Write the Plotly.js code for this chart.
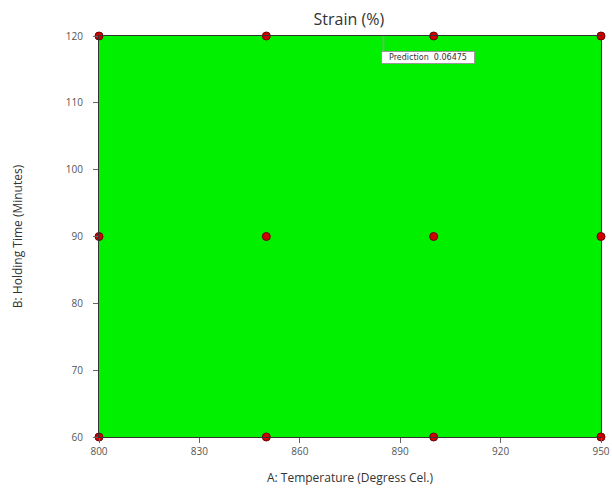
<!DOCTYPE html>
<html><head><meta charset="utf-8">
<script src="https://cdn.plot.ly/plotly-3.0.1.min.js"></script>
<style>body{margin:0;background:#fff}</style>
</head><body>
<div id="chart" style="width:612px;height:497px"></div>
<script>
const temperature = [800, 850, 900, 950, 800, 850, 900, 950, 800, 850, 900, 950];
const holdingTime = [120, 120, 120, 120, 90, 90, 90, 90, 60, 60, 60, 60];
const xTicks = [800, 830, 860, 890, 920, 950];
const yTicks = [60, 70, 80, 90, 100, 110, 120];
const predictionAt = {x: 885, y: 120};
const predictionLabel = "Prediction &nbsp;0.06475";

const trace = {
  x: temperature, y: holdingTime, type: 'scatter', mode: 'markers',
  marker: {size: 8, color: '#d00000', line: {color: '#700000', width: 1}},
  cliponaxis: false, hoverinfo: 'skip'
};
const layout = {
  width: 612, height: 497,
  margin: {l: 99, r: 11, t: 36, b: 60},
  paper_bgcolor: '#ffffff', plot_bgcolor: '#00f000',
  showlegend: false,
  title: {text: 'Strain (%)', x: 0.57, xanchor: 'center', y: 0.96, yanchor: 'middle',
          font: {family: 'Open Sans, sans-serif', size: 16, color: '#333'}},
  xaxis: {range: [800, 950], tickvals: xTicks, ticks: 'outside', ticklen: 5, tickcolor: '#666',
          showgrid: false, zeroline: false, showline: true, linecolor: '#333', linewidth: 1, mirror: true,
          tickfont: {family: 'Open Sans, sans-serif', size: 10, color: '#555'},
          title: {text: 'A: Temperature (Degress Cel.)', standoff: 16,
                  font: {family: 'Open Sans, sans-serif', size: 12, color: '#333'}}},
  yaxis: {range: [60, 120], tickvals: yTicks, ticks: 'outside', ticklen: 5, tickcolor: '#666',
          ticklabelstandoff: 8,
          showgrid: false, zeroline: false, showline: true, linecolor: '#333', linewidth: 1, mirror: true,
          tickfont: {family: 'Open Sans, sans-serif', size: 10, color: '#555'},
          title: {text: 'B: Holding Time (Minutes)', standoff: 40,
                  font: {family: 'Open Sans, sans-serif', size: 12, color: '#333'}}},
  shapes: [{type: 'line', xref: 'x', yref: 'y', x0: predictionAt.x, x1: predictionAt.x,
            y0: predictionAt.y, y1: predictionAt.y - 2.3, line: {color: '#999', width: 1.5}}],
  annotations: [{x: predictionAt.x, y: predictionAt.y - 2.3, xref: 'x', yref: 'y', xshift: -2,
                 text: predictionLabel, showarrow: false, xanchor: 'left', yanchor: 'top',
                 width: 90, align: 'center',
                 bgcolor: '#ffffff', bordercolor: '#999', borderwidth: 1, borderpad: 1,
                 font: {family: 'DejaVu Sans, sans-serif', size: 8, color: '#333'}}]
};
Plotly.newPlot('chart', [trace], layout, {displayModeBar: false, staticPlot: true});
</script>
</body></html>
